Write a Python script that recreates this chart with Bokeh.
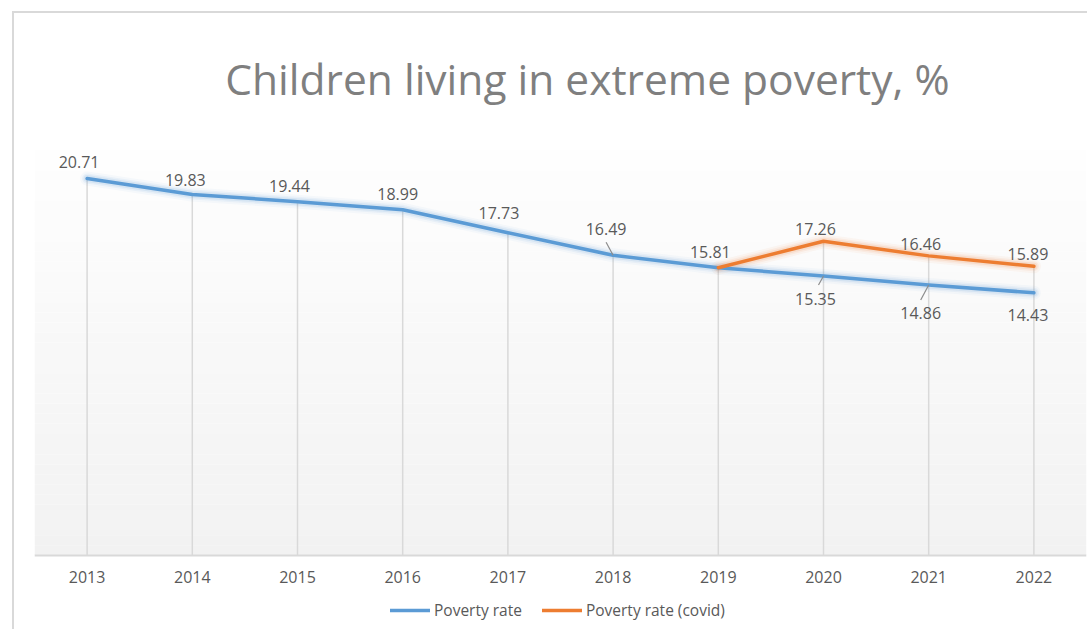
from bokeh.plotting import figure
from bokeh.models import Range1d, FixedTicker, Legend, LegendItem, BoxAnnotation, ColumnDataSource, Label
from bokeh.embed import file_html
from bokeh.resources import INLINE
from bokeh.core.properties import value

# ---------------- data ----------------
years = [2013, 2014, 2015, 2016, 2017, 2018, 2019, 2020, 2021, 2022]
poverty_rate = [20.71, 19.83, 19.44, 18.99, 17.73, 16.49, 15.81, 15.35, 14.86, 14.43]
covid_years = [2019, 2020, 2021, 2022]
poverty_rate_covid = [15.81, 17.26, 16.46, 15.89]
series_names = ["Poverty rate", "Poverty rate (covid)"]
title_text = "Children living in extreme poverty, %"

# ---------------- styles ----------------
BLUE = "#5b9bd5"
ORANGE = "#ed7d31"
GRID = "#d9d9d9"
TXT = "#595959"
TITLE_C = "#7f7f7f"
FONT = "Open Sans"

# label offsets in screen px (dx, dy), dy>0 = down
blue_dx = [-8, -7, -8, -5, -9, -7, -8, -8, -8, -6]
blue_dy = [-17, -15, -16, -16, -20, -26, -16, 23, 28, 22]
orange_dx = [0, -8, -8, -6]
orange_dy = [0, -12, -12, -12]
orange_show = [False, True, True, True]

PX_X = 105.1  # px per year
PX_Y = 18.2   # px per unit
Y_MAX = 22.25             # top of the plot area (gradient)
Y_MIN = -4.18             # room below for axis labels and legend
Y_TOP = Y_MAX + 137 / PX_Y  # room above for the title

p = figure(width=1075, height=618, output_backend="svg", toolbar_location=None,
           x_range=Range1d(2012.5, 2022.5), y_range=Range1d(Y_MIN, Y_TOP),
           min_border_left=20, min_border_right=3, min_border_top=0, min_border_bottom=0,
           background_fill_color="white", border_fill_color="white", outline_line_color=None)
p.margin = (11, 0, 0, 12)
p.styles = {"border-left": "2px solid #d9d9d9", "border-top": "2px solid #d9d9d9"}

# gradient background (white at top -> light gray at bottom)
nb = 40
for i in range(nb):
    b = Y_MAX * i / nb
    t = Y_MAX * (i + 1) / nb
    f = i / (nb - 1)
    c0 = (0xf2, 0xf2, 0xf2)
    c1 = (0xfe, 0xfe, 0xfe)
    col = "#%02x%02x%02x" % tuple(int(round(a + (bb - a) * f)) for a, bb in zip(c0, c1))
    p.add_layout(BoxAnnotation(bottom=b, top=t, fill_color=col, fill_alpha=1.0,
                               line_color=None, level="underlay"))

p.grid.visible = False
p.yaxis.visible = False
p.xaxis.fixed_location = 0
p.xaxis.ticker = FixedTicker(ticks=years)
p.xaxis.major_tick_line_color = None
p.xaxis.minor_tick_line_color = None
p.xaxis.axis_line_color = GRID
p.xaxis.axis_line_width = 2
p.xaxis.major_label_text_color = TXT
p.xaxis.major_label_text_font = FONT
p.xaxis.major_label_text_font_size = "16px"
p.xaxis.major_label_standoff = 10

# drop lines
tops = []
for y, v in zip(years, poverty_rate):
    m = v
    if y in covid_years:
        m = max(m, poverty_rate_covid[covid_years.index(y)])
    tops.append(m)
p.segment(x0=years, y0=[0] * len(years), x1=years, y1=tops, line_color=GRID, line_width=1.5)

# glow
for w, a in [(14, 0.05), (10, 0.08), (7, 0.12)]:
    p.line(years, poverty_rate, line_color=BLUE, line_width=w, line_alpha=a, line_join="round", line_cap="round")
    p.line(covid_years, poverty_rate_covid, line_color=ORANGE, line_width=w, line_alpha=a, line_join="round", line_cap="round")

r_blue = p.line(years, poverty_rate, line_color=BLUE, line_width=3.5, line_join="round", line_cap="round")
r_orange = p.line(covid_years, poverty_rate_covid, line_color=ORANGE, line_width=3.5, line_join="round", line_cap="round")

# leader lines (for labels away from point)
lx0, ly0, lx1, ly1 = [], [], [], []
for i, (y, v) in enumerate(zip(years, poverty_rate)):
    if y == 2018:
        lx0.append(y); ly0.append(v); lx1.append(y - 7 / PX_X); ly1.append(v + 13 / PX_Y)
    if y in (2020, 2021):
        lx0.append(y); ly0.append(v); lx1.append(y - (5 if y == 2020 else 8) / PX_X); ly1.append(v - (9 if y == 2020 else 15) / PX_Y)
p.segment(x0=lx0, y0=ly0, x1=lx1, y1=ly1, line_color="#8c8c8c", line_width=1.2)

# data labels
lab_x = list(years) + [y for y, s in zip(covid_years, orange_show) if s]
lab_y = list(poverty_rate) + [v for v, s in zip(poverty_rate_covid, orange_show) if s]
lab_t = ["%.2f" % v for v in lab_y]
lab_dx = blue_dx + [d for d, s in zip(orange_dx, orange_show) if s]
lab_dy = blue_dy + [d for d, s in zip(orange_dy, orange_show) if s]
src = ColumnDataSource(dict(x=lab_x, y=lab_y, t=lab_t, dx=lab_dx, dy=lab_dy))
p.text(x="x", y="y", text="t", x_offset="dx", y_offset="dy", source=src,
       text_font=value(FONT), text_font_size="16px", text_color=TXT,
       text_align="center", text_baseline="middle")

# title (as a label placed above the plot area)
p.add_layout(Label(x=553, y=553, x_units="screen", y_units="screen", text=title_text,
                   text_font=FONT, text_font_size="42.5px", text_color=TITLE_C,
                   text_align="center", text_baseline="middle"))

legend = Legend(items=[LegendItem(label=series_names[0], renderers=[r_blue]),
                       LegendItem(label=series_names[1], renderers=[r_orange])],
                orientation="horizontal", location=(356, 10),
                label_text_font=FONT, label_text_font_size="15.5px", label_text_color=TXT,
                glyph_width=40, label_standoff=4, spacing=20, border_line_color=None,
                background_fill_alpha=0, padding=0, margin=0)
p.add_layout(legend)

open("out.html", "w").write(file_html(p, INLINE))
